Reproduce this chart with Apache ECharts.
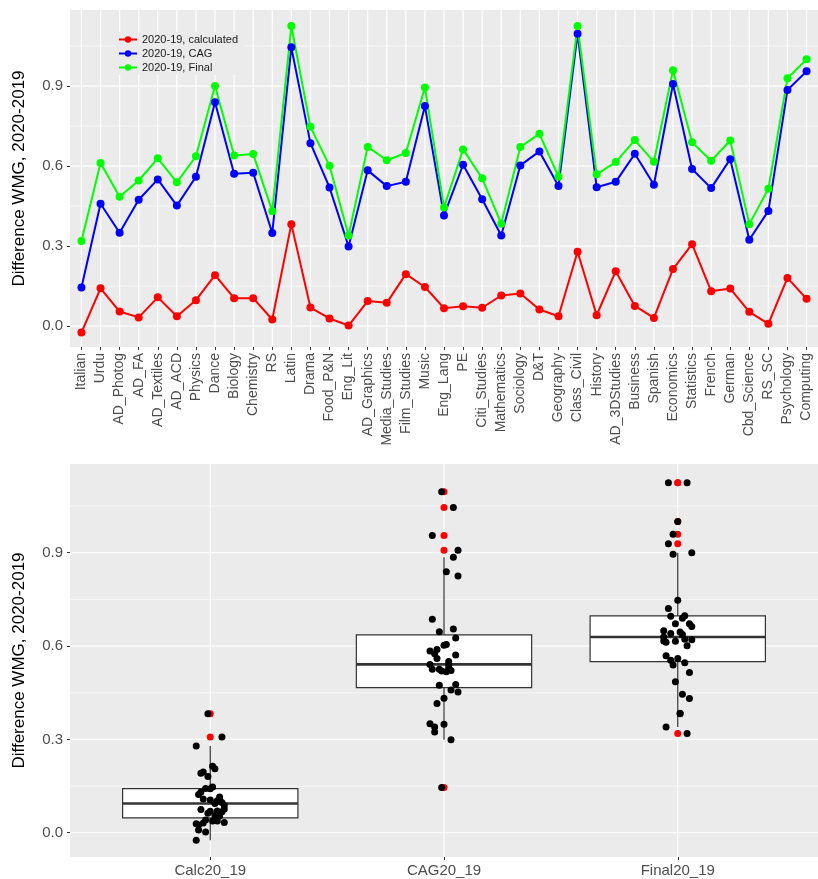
<!DOCTYPE html>
<html>
<head>
<meta charset="utf-8">
<title>WMG difference 2020-2019</title>
<script src="https://cdn.jsdelivr.net/npm/echarts@6/dist/echarts.min.js"></script>
<style>
html, body { margin: 0; padding: 0; background: #fff; }
#main { width: 818px; height: 879px; }
</style>
</head>
<body>
<div id="main"></div>
<script>
var subjects = ['Italian', 'Urdu', 'AD_Photog', 'AD_FA', 'AD_Textiles', 'AD_ACD', 'Physics', 'Dance',
    'Biology', 'Chemistry', 'RS', 'Latin', 'Drama', 'Food_P&N', 'Eng_Lit', 'AD_Graphics',
    'Media_Studies', 'Film_Studies', 'Music', 'Eng_Lang', 'PE', 'Citi_Studies', 'Mathematics',
    'Sociology', 'D&T', 'Geography', 'Class_Civil', 'History', 'AD_3DStudies', 'Business',
    'Spanish', 'Economics', 'Statistics', 'French', 'German', 'Cbd_Science', 'RS_SC',
    'Psychology', 'Computing'];

var calc = [-0.024, 0.142, 0.055, 0.033, 0.108, 0.0375, 0.0975, 0.191,
    0.105, 0.105, 0.025, 0.3825, 0.07, 0.029, 0.0025, 0.094,
    0.0875, 0.195, 0.147, 0.0675, 0.075, 0.069, 0.115,
    0.1225, 0.0625, 0.0375, 0.279, 0.041, 0.206, 0.076,
    0.031, 0.214, 0.3075, 0.131, 0.141, 0.054, 0.009,
    0.181, 0.1025];

var cag = [0.145, 0.459, 0.35, 0.474, 0.55, 0.452, 0.56, 0.839,
    0.571, 0.575, 0.349, 1.045, 0.686, 0.52, 0.299, 0.584,
    0.525, 0.541, 0.825, 0.415, 0.605, 0.476, 0.34,
    0.6025, 0.655, 0.525, 1.096, 0.521, 0.541, 0.646,
    0.53, 0.9075, 0.589, 0.5175, 0.626, 0.324, 0.432,
    0.885, 0.955];

var fin = [0.319, 0.612, 0.485, 0.546, 0.629, 0.539, 0.637, 0.9,
    0.64, 0.645, 0.431, 1.125, 0.747, 0.601, 0.34, 0.672,
    0.622, 0.649, 0.895, 0.445, 0.6625, 0.554, 0.384,
    0.672, 0.721, 0.56, 1.125, 0.569, 0.615, 0.6975,
    0.616, 0.959, 0.689, 0.62, 0.696, 0.3825, 0.515,
    0.929, 1.0];

var seriesNames = ['2020-19, calculated', '2020-19, CAG', '2020-19, Final'];
var groups = ['Calc20_19', 'CAG20_19', 'Final20_19'];
var yTicks = [0, 0.3, 0.6, 0.9];
var yMinor = [0.15, 0.45, 0.75, 1.05];

var myChart = echarts.init(document.getElementById('main'));

// ggplot style quantiles (type 7) and 1.5*IQR whiskers
function quant(s, p) {
    var h = (s.length - 1) * p;
    var lo = Math.floor(h);
    var next = lo + 1 < s.length ? s[lo + 1] : s[lo];
    return s[lo] + (h - lo) * (next - s[lo]);
}
function boxStats(arr) {
    var s = arr.slice().sort(function (a, b) { return a - b; });
    var q1 = quant(s, 0.25), med = quant(s, 0.5), q3 = quant(s, 0.75);
    var iqr = q3 - q1, lo = q1 - 1.5 * iqr, hi = q3 + 1.5 * iqr;
    var inside = s.filter(function (v) { return v >= lo && v <= hi; });
    return {
        box: [inside[0], q1, med, q3, inside[inside.length - 1]],
        outliers: s.filter(function (v) { return v < lo || v > hi; })
    };
}

var groupData = [calc, cag, fin];
var stats = groupData.map(boxStats);

var boxData = stats.map(function (st, i) { return [i].concat(st.box); });
var outlierData = [];
stats.forEach(function (st, i) {
    st.outliers.forEach(function (v) { outlierData.push([i, v]); });
});
// fixed horizontal spread for the points (no randomness)
function spread(j, g) { return (((j * 17 + g * 5) % 13) - 6) / 100; }
var pointData = [];
groupData.forEach(function (arr, g) {
    arr.forEach(function (v, j) { pointData.push([g + spread(j, g), v]); });
});

var lineColors = ['#FF0000', '#0000FF', '#00FF00'];
var lineValues = [calc, cag, fin];
var subjIdx = subjects.map(function (s, i) { return i; });

var font = 'Liberation Sans, Arial, sans-serif';
var yMin = -0.078, yMax = 1.185;

function yAxisFor(grid) {
    return {
        type: 'value', gridIndex: grid, min: yMin, max: yMax,
        name: 'Difference WMG, 2020-2019', nameLocation: 'middle', nameGap: 42,
        nameTextStyle: { fontSize: 17, color: '#000', fontFamily: font },
        axisLine: { show: false, onZero: false },
        axisTick: { show: true, length: 3, customValues: yTicks, lineStyle: { color: '#333' } },
        axisLabel: {
            customValues: yTicks, margin: 7, fontSize: 15, color: '#4D4D4D', fontFamily: font,
            formatter: function (v) { return v.toFixed(1); }
        },
        splitLine: { show: false }
    };
}

// white panel grid lines, drawn under the data: [kind, value, width]
function gridLines(xi, yi, xVals) {
    var data = [];
    yMinor.forEach(function (v) { data.push([0, v, 0.6]); });
    yTicks.forEach(function (v) { data.push([0, v, 1.2]); });
    xVals.forEach(function (v) { data.push([1, v, 1.2]); });
    return {
        type: 'custom', xAxisIndex: xi, yAxisIndex: yi, z: 1, silent: true,
        data: data,
        renderItem: function (params, api) {
            var cs = params.coordSys;
            var kind = api.value(0), v = api.value(1), w = api.value(2);
            var shape;
            if (kind === 0) {
                var py = api.coord([0, v])[1];
                shape = { x1: cs.x, y1: py, x2: cs.x + cs.width, y2: py };
            } else {
                var px = api.coord([v, 0])[0];
                shape = { x1: px, y1: cs.y, x2: px, y2: cs.y + cs.height };
            }
            return { type: 'line', shape: shape, style: { stroke: '#fff', lineWidth: w } };
        }
    };
}

var lineSeries = seriesNames.map(function (name, k) {
    return {
        name: name,
        type: 'line',
        xAxisIndex: 0, yAxisIndex: 0,
        data: lineValues[k].map(function (v, i) { return [i, v]; }),
        symbol: 'circle', symbolSize: 8,
        color: lineColors[k],
        lineStyle: { width: 2 },
        itemStyle: { opacity: 1 }
    };
});

myChart.setOption({
    animation: false,
    textStyle: { fontFamily: font },
    grid: [
        { left: 70, right: 0, top: 10, height: 337, show: true, backgroundColor: '#EBEBEB', borderWidth: 0 },
        { left: 70, right: 0, top: 464, height: 393, show: true, backgroundColor: '#EBEBEB', borderWidth: 0 }
    ],
    legend: {
        data: seriesNames,
        orient: 'vertical',
        left: 116, top: 32,
        itemWidth: 18, itemHeight: 8, itemGap: 3,
        padding: [2, 6, 2, 2],
        backgroundColor: '#EBEBEB',
        textStyle: { fontSize: 11, color: '#1A1A1A', fontFamily: font }
    },
    xAxis: [{
        type: 'value', gridIndex: 0, min: -0.6, max: 38.6,
        axisLine: { show: false, onZero: false },
        axisTick: { show: true, length: 3, customValues: subjIdx, lineStyle: { color: '#333' } },
        axisLabel: {
            customValues: subjIdx, rotate: 90, margin: 6, fontSize: 14, color: '#4D4D4D', fontFamily: font,
            formatter: function (v) { return subjects[v]; }
        },
        splitLine: { show: false }
    }, {
        type: 'value', gridIndex: 1, min: -0.6, max: 2.6,
        axisLine: { show: false, onZero: false },
        axisTick: { show: true, length: 3, customValues: [0, 1, 2], lineStyle: { color: '#333' } },
        axisLabel: {
            customValues: [0, 1, 2], margin: 6, fontSize: 15, color: '#4D4D4D', fontFamily: font,
            formatter: function (v) { return groups[v]; }
        },
        splitLine: { show: false }
    }],
    yAxis: [yAxisFor(0), yAxisFor(1)],
    series: [gridLines(0, 0, subjIdx), gridLines(1, 1, [0, 1, 2])].concat(lineSeries).concat([{
        type: 'custom',
        xAxisIndex: 1, yAxisIndex: 1,
        data: boxData,
        encode: { x: 0, y: [1, 2, 3, 4, 5] },
        renderItem: function (params, api) {
            var i = api.value(0);
            var lo = api.coord([i, api.value(1)]);
            var q1 = api.coord([i, api.value(2)]);
            var md = api.coord([i, api.value(3)]);
            var q3 = api.coord([i, api.value(4)]);
            var hi = api.coord([i, api.value(5)]);
            var half = api.size([0.75, 0])[0] / 2;
            var x = q1[0];
            var stroke = { stroke: '#333', lineWidth: 1.2 };
            return {
                type: 'group',
                children: [
                    { type: 'line', shape: { x1: x, y1: lo[1], x2: x, y2: q1[1] }, style: stroke },
                    { type: 'line', shape: { x1: x, y1: q3[1], x2: x, y2: hi[1] }, style: stroke },
                    { type: 'rect', shape: { x: x - half, y: q3[1], width: half * 2, height: q1[1] - q3[1] },
                        style: { fill: '#fff', stroke: '#333', lineWidth: 1.2 } },
                    { type: 'line', shape: { x1: x - half, y1: md[1], x2: x + half, y2: md[1] },
                        style: { stroke: '#333', lineWidth: 2.6 } }
                ]
            };
        }
    }, {
        type: 'scatter',
        xAxisIndex: 1, yAxisIndex: 1,
        data: outlierData,
        symbolSize: 7,
        itemStyle: { color: '#FF0000', opacity: 1 }
    }, {
        type: 'scatter',
        xAxisIndex: 1, yAxisIndex: 1,
        data: pointData,
        symbolSize: 7,
        itemStyle: { color: '#000', opacity: 1 }
    }])
});
</script>
</body>
</html>
